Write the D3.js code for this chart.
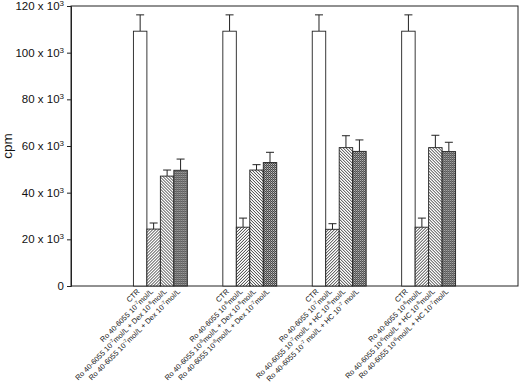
<!DOCTYPE html>
<html><head><meta charset="utf-8">
<script src="https://cdn.jsdelivr.net/npm/d3@7"></script>
<style>body{margin:0;background:#fff}svg{display:block}text{font-family:"Liberation Sans",Arial,sans-serif;fill:#111}</style>
</head><body><svg id="c" width="520" height="389"></svg>
<script>
const groups = ["Ro 10-7 + Dex", "Ro 10-8 + Dex", "Ro 10-7 + HC", "Ro 10-8 + HC"];
const seriesKeys = ["ctr", "ro", "low", "high"];
const labels = [
  ["CTR", "Ro 40-6055 10^{-7}mol/L", "Ro 40-6055 10^{-7}mol/L + Dex 10^{-8}mol/L", "Ro 40-6055 10^{-7}mol/L + Dex 10^{-7}mol/L"],
  ["CTR", "Ro 40-6055 10^{-8}mol/L", "Ro 40-6055 10^{-8}mol/L + Dex 10^{-8}mol/L", "Ro 40-6055 10^{-8}mol/L + Dex 10^{-7}mol/L"],
  ["CTR", "Ro 40-6055 10^{-7}mol/L", "Ro 40-6055 10^{-7}mol/L + HC 10^{-8}mol/L", "Ro 40-6055 10^{-7} mol/L + HC 10^{-7} mol/L"],
  ["CTR", "Ro 40-6055 10^{-8}mol/L", "Ro 40-6055 10^{-8}mol/L + HC 10^{-8}mol/L", "Ro 40-6055 10^{-8}mol/L + HC 10^{-7}mol/L"]
];
const ctr = [109200, 109200, 109200, 109200];
const ctrErr = [7000, 7000, 7000, 7000];
const ro = [24400, 25200, 24300, 25200];
const roErr = [2600, 3900, 2400, 3900];
const low = [47100, 49700, 59300, 59300];
const lowErr = [2600, 2300, 5100, 5300];
const high = [49600, 52900, 57700, 57600];
const highErr = [4800, 4400, 4900, 4000];
const yTicks = [0, 20000, 40000, 60000, 80000, 100000, 120000];
const yTickLabels = ["0", "20", "40", "60", "80", "100", "120"];

const vals = {ctr, ro, low, high};
const errs = {ctr: ctrErr, ro: roErr, low: lowErr, high: highErr};
const fills = {ctr: "#fff", ro: "url(#pFwd)", low: "url(#pBack)", high: "url(#pCross)"};

const svg = d3.select("#c");
const L = 71, R = 518, T = 6, B = 286;

const defs = svg.append("defs");
function hatch(id, d) {
  const p = defs.append("pattern").attr("id", id).attr("patternUnits", "userSpaceOnUse")
    .attr("width", 3).attr("height", 3);
  p.append("rect").attr("width", 3).attr("height", 3).attr("fill", "#fff");
  p.append("path").attr("d", d).attr("stroke", "#222").attr("stroke-width", 0.9).attr("fill", "none");
}
hatch("pFwd", "M-1,1 L1,-1 M0,3 L3,0 M2,4 L4,2");
hatch("pBack", "M-1,2 L1,4 M0,0 L3,3 M2,-1 L4,1");
{
  const p = defs.append("pattern").attr("id", "pCross").attr("patternUnits", "userSpaceOnUse")
    .attr("width", 2).attr("height", 2);
  p.append("rect").attr("width", 2).attr("height", 2).attr("fill", "#333");
  p.append("rect").attr("width", 1).attr("height", 1).attr("fill", "#ddd");
  p.append("rect").attr("x", 1).attr("y", 1).attr("width", 1).attr("height", 1).attr("fill", "#999");
}

const x0 = d3.scaleBand().domain(groups).range([L, R]).paddingInner(0.397).paddingOuter(0.698);
const x1 = d3.scaleBand().domain(seriesKeys).range([0, x0.bandwidth()]).padding(0);
const y = d3.scaleLinear().domain([0, 120000]).range([B, T]);

// frame
svg.append("rect").attr("x", L).attr("y", T).attr("width", R - L).attr("height", B - T)
  .attr("fill", "none").attr("stroke", "#222").attr("stroke-width", 1);

// y axis
const yAxis = d3.axisLeft(y).tickValues(yTicks).tickSize(4).tickFormat("");
const ya = svg.append("g").attr("transform", `translate(${L},0)`).call(yAxis);
ya.select(".domain").attr("stroke", "#222");
ya.selectAll(".tick line").attr("stroke", "#222");
yTicks.forEach((v, i) => {
  const t = svg.append("text").attr("x", 64).attr("y", y(v) + 4).attr("text-anchor", "end")
    .attr("font-size", 11.5);
  if (v === 0) { t.text("0"); return; }
  t.append("tspan").text(yTickLabels[i] + " x 10");
  t.append("tspan").attr("font-size", 8).attr("dy", -4).text("3");
});
svg.append("text").attr("transform", `translate(12,${(T + B) / 2}) rotate(-90)`)
  .attr("text-anchor", "middle").attr("font-size", 13.5).text("cpm");

// bars
const gs = svg.append("g").selectAll("g").data(groups).join("g")
  .attr("transform", d => `translate(${x0(d)},0)`);
gs.each(function(g, gi) {
  const sel = d3.select(this);
  seriesKeys.forEach(k => {
    const v = vals[k][gi], e = errs[k][gi];
    const bx = x1(k), bw = x1.bandwidth(), cx = bx + bw / 2;
    sel.append("line").attr("x1", cx).attr("x2", cx).attr("y1", y(v)).attr("y2", y(v + e))
      .attr("stroke", "#222").attr("stroke-width", 1);
    sel.append("line").attr("x1", cx - 4).attr("x2", cx + 4).attr("y1", y(v + e)).attr("y2", y(v + e))
      .attr("stroke", "#222").attr("stroke-width", 1);
    sel.append("rect").attr("x", bx).attr("y", y(v)).attr("width", bw).attr("height", y(0) - y(v))
      .attr("fill", fills[k]).attr("stroke", "#222").attr("stroke-width", 0.9);
  });
});

// x labels
function addRich(t, s) {
  const re = /\^\{([^}]*)\}/g; let last = 0, m;
  while ((m = re.exec(s)) !== null) {
    if (m.index > last) t.append("tspan").attr("baseline-shift", "0").text(s.slice(last, m.index));
    t.append("tspan").attr("baseline-shift", "super").attr("font-size", 5).text(m[1]);
    last = re.lastIndex;
  }
  if (last < s.length) t.append("tspan").text(s.slice(last));
}
groups.forEach((g, gi) => {
  seriesKeys.forEach((k, si) => {
    const cx = x0(g) + x1(k) + x1.bandwidth() / 2;
    const t = svg.append("text").attr("text-anchor", "end").attr("font-size", 7.4)
      .attr("transform", `translate(${cx},292) rotate(-45)`);
    addRich(t, labels[gi][si]);
  });
});
</script></body></html>
